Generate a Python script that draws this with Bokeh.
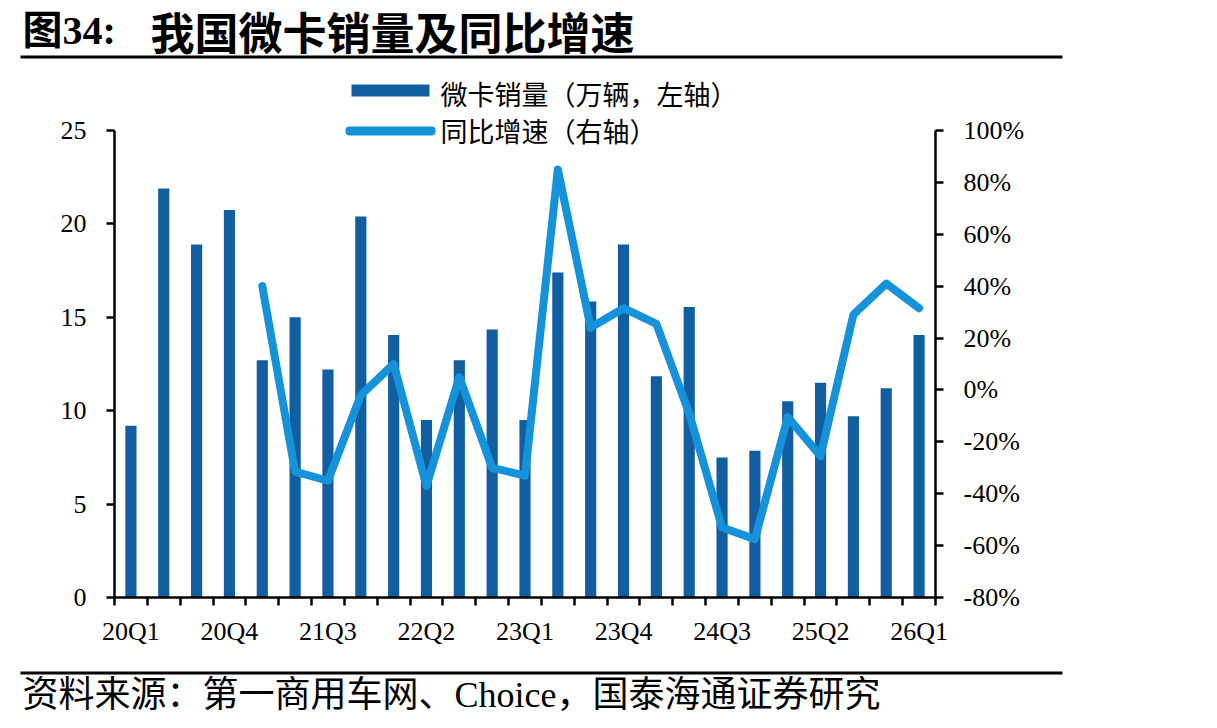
from bokeh.plotting import figure
from bokeh.models import Range1d, LinearAxis, FixedTicker, Label, BoxAnnotation, ColumnDataSource, Grid
from bokeh.embed import file_html
from bokeh.resources import INLINE

quarters = ["20Q1", "20Q2", "20Q3", "20Q4", "21Q1", "21Q2", "21Q3", "21Q4",
            "22Q1", "22Q2", "22Q3", "22Q4", "23Q1", "23Q2", "23Q3", "23Q4",
            "24Q1", "24Q2", "24Q3", "24Q4", "25Q1", "25Q2", "25Q3", "25Q4", "26Q1"]
sales = [9.2, 21.9, 18.9, 20.75, 12.7, 15.0, 12.2, 20.4, 14.05, 9.5, 12.7, 14.35,
         9.5, 17.4, 15.85, 18.9, 11.85, 15.55, 7.5, 7.85, 10.5, 11.5, 9.7, 11.2, 14.05]
yoy = [None, None, None, None, 40, -31.5, -35, -2, 10, -37, 5, -30,
       -33, 85, 24, 31.5, 25.5, -9, -53, -57.5, -10.5, -25.5, 29, 41, 31.5]
x_tick_labels = ["20Q1", "20Q4", "21Q3", "22Q2", "23Q1", "23Q4", "24Q3", "25Q2", "26Q1"]
left_ticks = [0, 5, 10, 15, 20, 25]
right_ticks = [-80, -60, -40, -20, 0, 20, 40, 60, 80, 100]

BAR = "#115EA0"
LINE = "#1592DA"
SERIF = "Liberation Serif, Noto Sans CJK SC"
CJK = "Noto Sans CJK SC"

W, H = 1217, 728
PX_L, PX_R, PX_T, PX_B = 114, 935, 130, 597   # plot area in canvas pixels
n = len(quarters)
L_MIN, L_MAX = 0, 25
R_MIN, R_MAX = -80, 100

# ranges chosen so that the plot area sits at the pixel box above while the frame covers the canvas
xu = n / (PX_R - PX_L)
yu = (L_MAX - L_MIN) / (PX_B - PX_T)
ru = (R_MAX - R_MIN) / (PX_B - PX_T)
x_range = Range1d(0 - PX_L * xu, n + (W - PX_R) * xu)
y_range = Range1d(L_MIN - (H - PX_B) * yu, L_MAX + PX_T * yu)
r_range = Range1d(R_MIN - (H - PX_B) * ru, R_MAX + PX_T * ru)

xc = [quarters.index(q) + 0.5 for q in quarters]
src_bar = ColumnDataSource(dict(x=xc, top=sales))
lx = [xc[i] for i, v in enumerate(yoy) if v is not None]
ly = [v for v in yoy if v is not None]
src_line = ColumnDataSource(dict(x=lx, y=ly))

p = figure(width=W, height=H, x_range=x_range, y_range=y_range,
           x_axis_location=None, y_axis_location=None,
           output_backend="svg", toolbar_location=None,
           min_border=0, min_border_left=0, min_border_right=0, min_border_top=0, min_border_bottom=0)
p.extra_y_ranges = {"yoy": r_range}
p.outline_line_color = None
p.background_fill_color = "white"
p.border_fill_color = "white"
for r in list(p.renderers) + list(p.center):
    if isinstance(r, Grid):
        r.visible = False
p.center = [r for r in p.center if not isinstance(r, Grid)]

p.vbar(x="x", top="top", bottom=0, width=0.34, source=src_bar, fill_color=BAR, line_color=None)
p.line(x="x", y="y", source=src_line, y_range_name="yoy", line_color=LINE, line_width=8,
       line_cap="round", line_join="round")


def style(ax):
    ax.axis_line_width = 2.5
    ax.axis_line_color = "black"
    ax.major_tick_line_width = 2.5
    ax.major_tick_line_color = "black"
    ax.major_label_text_font = SERIF
    ax.major_label_text_font_size = "26px"
    ax.major_label_text_color = "black"


# x axis
xa = LinearAxis(fixed_location=L_MIN, bounds=(0, n))
style(xa)
label_pos = [quarters.index(q) + 0.5 for q in x_tick_labels]
xa.ticker = FixedTicker(ticks=label_pos, minor_ticks=list(range(n + 1)))
xa.major_label_overrides = {pos: lab for pos, lab in zip(label_pos, x_tick_labels)}
xa.major_tick_out = 0
xa.major_tick_in = 0
xa.minor_tick_out = 8
xa.minor_tick_in = 0
xa.minor_tick_line_width = 2.5
xa.minor_tick_line_color = "black"
xa.major_label_standoff = 11
p.add_layout(xa, "below")

# left axis
ya = LinearAxis(fixed_location=0, bounds=(L_MIN, L_MAX))
style(ya)
ya.ticker = FixedTicker(ticks=left_ticks, minor_ticks=[])
ya.major_tick_out = 8
ya.major_tick_in = 0
ya.major_label_standoff = 20
p.add_layout(ya, "left")

# right axis
ra = LinearAxis(y_range_name="yoy", fixed_location=n, bounds=(R_MIN, R_MAX))
style(ra)
ra.ticker = FixedTicker(ticks=right_ticks, minor_ticks=[])
ra.major_label_overrides = {t: f"{t}%" for t in right_ticks}
ra.major_tick_out = 8
ra.major_tick_in = 0
ra.major_label_standoff = 20
p.add_layout(ra, "right")


def box(l, r, t, b, color, **kw):
    return BoxAnnotation(left=l, right=r, top=t, bottom=b, left_units="canvas",
                         right_units="canvas", top_units="canvas", bottom_units="canvas",
                         fill_color=color, fill_alpha=1, line_color=None, **kw)


def label(x, y, text, font, size, bold=False):
    return Label(x=x, y=y, x_units="canvas", y_units="canvas", text=text,
                 text_font=font, text_font_style="bold" if bold else "normal",
                 text_font_size=size, text_baseline="middle", text_color="black")


# title
p.add_layout(label(22, 30, "图34:", SERIF, "40px", True))
p.add_layout(label(150, 30, "我国微卡销量及同比增速", CJK, "44px", True))
# rules
p.add_layout(box(20, 1062, 55, 58, "black"))
p.add_layout(box(20, 1062, 671, 674, "black"))
# legend
p.add_layout(box(351, 429, 84, 96, BAR))
p.add_layout(box(345, 435, 126, 135, LINE, border_radius=4))
p.add_layout(label(440, 93, "微卡销量（万辆，左轴）", CJK, "27px"))
p.add_layout(label(440, 130, "同比增速（右轴）", CJK, "27px"))
# source
p.add_layout(label(22, 694, "资料来源：第一商用车网、Choice，国泰海通证券研究", SERIF, "36px"))

open("out.html", "w").write(file_html(p, INLINE))
